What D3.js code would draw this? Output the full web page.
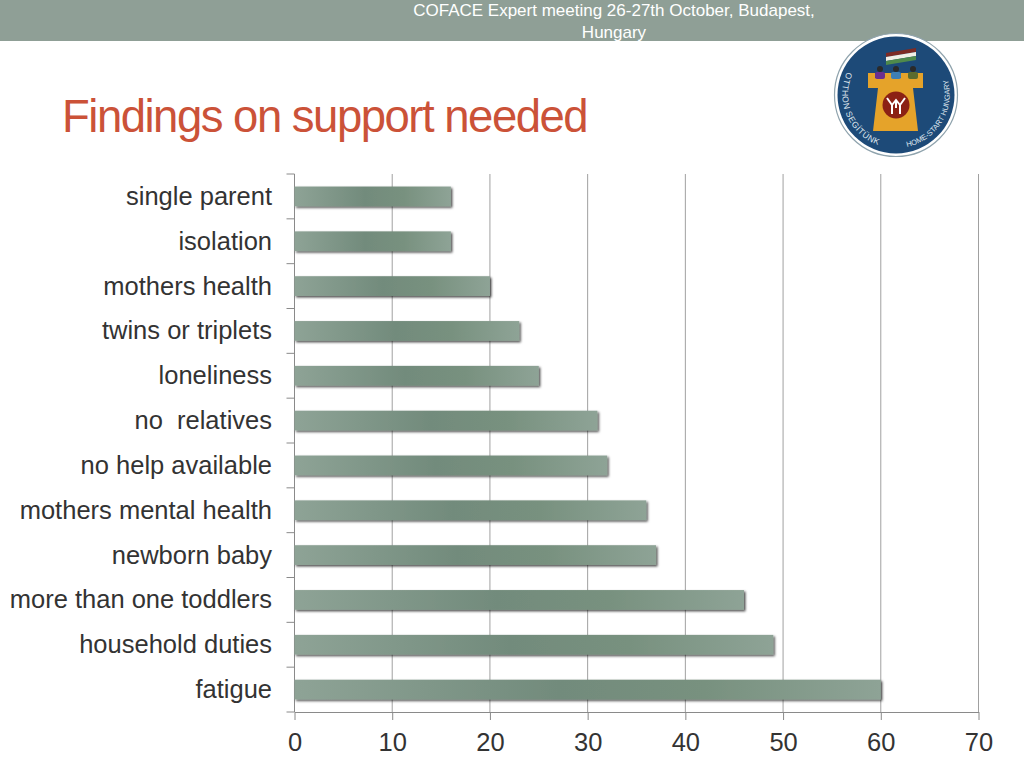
<!DOCTYPE html>
<html>
<head>
<meta charset="utf-8">
<script src="https://cdn.jsdelivr.net/npm/d3@7"></script>
<style>
html, body { margin: 0; padding: 0; background: #fff; overflow: hidden; }
text { font-family: "Liberation Sans", Arial, sans-serif; }
</style>
</head>
<body>
<svg id="slide" width="1024" height="768"></svg>
<script>
var categories = ["single parent", "isolation", "mothers health", "twins or triplets", "loneliness", "no  relatives",
  "no help available", "mothers mental health", "newborn baby", "more than one toddlers", "household duties", "fatigue"];
var values = [16, 16, 20, 23, 25, 31, 32, 36, 37, 46, 49, 60];
var xTicks = [0, 10, 20, 30, 40, 50, 60, 70];
var headerLines = ["COFACE Expert meeting 26-27th October, Budapest,", "Hungary"];
var titleText = "Findings on support needed";

var svg = d3.select("#slide");
var defs = svg.append("defs");

// bar fill: light at the ends, darker in the middle
var grad = defs.append("linearGradient").attr("id", "barFill");
grad.append("stop").attr("offset", "0%").attr("stop-color", "#8ea396");
grad.append("stop").attr("offset", "45%").attr("stop-color", "#728b7c");
grad.append("stop").attr("offset", "70%").attr("stop-color", "#78917f");
grad.append("stop").attr("offset", "100%").attr("stop-color", "#8ea396");

var shadow = defs.append("filter").attr("id", "barShadow")
  .attr("x", "-5%").attr("y", "-20%").attr("width", "110%").attr("height", "160%");
shadow.append("feDropShadow").attr("dx", 1.5).attr("dy", 1.5).attr("stdDeviation", 0.8)
  .attr("flood-color", "#000").attr("flood-opacity", 0.7);

// header band
svg.append("rect").attr("width", 1024).attr("height", 41).attr("fill", "#8f9f96");
svg.selectAll(".head").data(headerLines).enter().append("text")
  .attr("class", "head")
  .attr("x", 614).attr("y", function(d, i) { return 16 + i * 21.5; })
  .attr("text-anchor", "middle").attr("font-size", 17).attr("fill", "#fff")
  .text(function(d) { return d; });

// title
svg.append("text").attr("x", 62).attr("y", 132)
  .attr("font-size", 45.5).attr("letter-spacing", -1.5).attr("fill", "#cb5238")
  .text(titleText);

// chart
var x = d3.scaleLinear().domain([0, 70]).range([294.5, 978.5]);
var y = d3.scaleBand().domain(categories).range([174, 712]).paddingInner(0.56).paddingOuter(0.28);
var band = y.step();

// vertical gridlines
svg.selectAll(".grid").data(xTicks.slice(1)).enter().append("line")
  .attr("class", "grid")
  .attr("x1", x).attr("x2", x).attr("y1", 174).attr("y2", 712)
  .attr("stroke", "#a0a0a0").attr("stroke-width", 1);

var xAxis = d3.axisBottom(x).tickValues(xTicks).tickSize(8).tickPadding(13).tickSizeOuter(0);
var gx = svg.append("g").attr("transform", "translate(0,712)").call(xAxis);
gx.selectAll("path, line").attr("stroke", "#8a8a8a");
gx.selectAll("text").attr("font-size", 25.5).attr("fill", "#333")
  .style("font-family", "'Liberation Sans', Arial, sans-serif");

// y axis: ticks sit between the categories
var yLine = svg.append("g");
yLine.append("line").attr("x1", 294.5).attr("x2", 294.5).attr("y1", 174).attr("y2", 712).attr("stroke", "#8a8a8a");
yLine.selectAll(".ytick").data(d3.range(categories.length + 1)).enter().append("line")
  .attr("class", "ytick")
  .attr("x1", 286.5).attr("x2", 294.5)
  .attr("y1", function(i) { return 174 + i * band; })
  .attr("y2", function(i) { return 174 + i * band; })
  .attr("stroke", "#8a8a8a");

svg.selectAll(".bar").data(values).enter().append("rect")
  .attr("class", "bar")
  .attr("x", x(0))
  .attr("y", function(d, i) { return y(categories[i]); })
  .attr("width", function(d) { return x(d) - x(0); })
  .attr("height", y.bandwidth())
  .attr("fill", "url(#barFill)")
  .attr("filter", "url(#barShadow)");

svg.selectAll(".cat").data(categories).enter().append("text")
  .attr("class", "cat")
  .attr("x", 272)
  .attr("y", function(d) { return y(d) + y.bandwidth() / 2 + 8.5; })
  .attr("text-anchor", "end").attr("font-size", 25.5).attr("fill", "#333")
  .attr("xml:space", "preserve").style("white-space", "pre")
  .text(function(d) { return d; });

// logo
var logo = svg.append("g").attr("transform", "translate(896,95)");
logo.append("circle").attr("r", 61.5).attr("fill", "#fff").attr("stroke", "#8fa3ad").attr("stroke-width", 1.2);
logo.append("circle").attr("r", 58.5).attr("fill", "#1d4a78");

var flagColors = ["#7d2b25", "#f1efe6", "#4f8a4b"];
flagColors.forEach(function(c, i) {
  logo.append("polygon")
    .attr("points", [[-10, -42 + i * 4], [20, -47 + i * 4], [20, -43 + i * 4], [-10, -38 + i * 4]].join(" "))
    .attr("fill", c);
});

logo.append("path")
  .attr("d", "M-28,-22V-7H-18L-23,36H22L17,-7H27V-22H21V-17H13V-22H5V-17H-4V-22H-12V-17H-21V-22Z")
  .attr("fill", "#e5a32a");

var people = [[-16, "#6b2f8f"], [0, "#3f7fb5"], [17, "#5c6b2e"]];
people.forEach(function(p) {
  logo.append("circle").attr("cx", p[0]).attr("cy", -26).attr("r", 3).attr("fill", "#2a2a2a");
  logo.append("rect").attr("x", p[0] - 5).attr("y", -23).attr("width", 10).attr("height", 7).attr("rx", 2).attr("fill", p[1]);
});

logo.append("circle").attr("cx", 0).attr("cy", 10).attr("r", 13.5).attr("fill", "#8c2114");
logo.append("path")
  .attr("d", "M-9,3L-4,10V19M9,3L4,10V19M-4,10L0,5L4,10M0,5V13")
  .attr("fill", "none").attr("stroke", "#fff").attr("stroke-width", 2);

defs.append("path").attr("id", "ringLeft").attr("d", "M-49,-23A54,54 0 0 0 -11,52");
defs.append("path").attr("id", "ringRight").attr("d", "M11,52A54,54 0 0 0 49,-23");
logo.append("text").attr("font-size", 8.5).attr("fill", "#dfe6ee").attr("letter-spacing", 0.5)
  .append("textPath").attr("href", "#ringLeft").text("OTTHON SEGÍTÜNK");
logo.append("text").attr("font-size", 7.5).attr("fill", "#dfe6ee")
  .append("textPath").attr("href", "#ringRight").text("HOME-START HUNGARY");
</script>
</body>
</html>
